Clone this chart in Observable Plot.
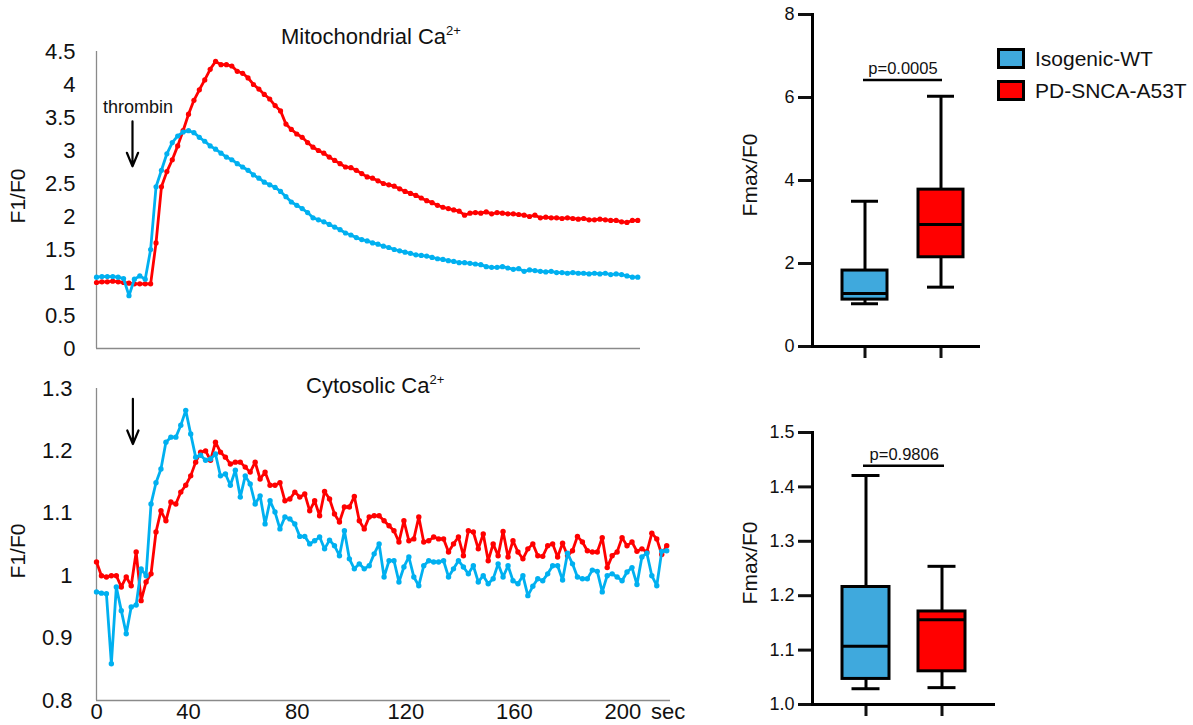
<!DOCTYPE html>
<html>
<head>
<meta charset="utf-8">
<script src="https://cdn.jsdelivr.net/npm/d3@7"></script>
<script src="https://cdn.jsdelivr.net/npm/@observablehq/plot@0.6"></script>
<style>
  body { margin: 0; background: #fff; }
  #root { position: relative; width: 1193px; height: 725px; overflow: hidden; background: #fff;
          font-family: "Liberation Sans", Arial, sans-serif; color: #111; }
  .panel { position: absolute; }
  .title { position: absolute; font-size: 22px; line-height: 22px; white-space: nowrap; }
  .title sup { font-size: 13px; vertical-align: 0; position: relative; top: -9px; }
  .ylab { position: absolute; font-size: 21px; line-height: 21px; white-space: nowrap;
          transform: translate(-50%, -50%) rotate(-90deg); }
  .legrow { position: absolute; display: flex; align-items: center; height: 21px; font-size: 21px; white-space: nowrap; }
  .legrow .sw { width: 28px; height: 21px; box-sizing: border-box; border: 3px solid #000; margin-right: 10px; }
</style>
</head>
<body>
<div id="root"></div>
<script>
// ---------------- DATA ----------------
// Mitochondrial Ca2+ traces (F1/F0), one sample every 2 s from t = 0
const mitoWT = [
  1.08, 1.09, 1.09, 1.09, 1.08, 1.06, 0.80, 1.05, 1.10, 1.05,
  1.50, 2.45, 2.70, 2.95, 3.12, 3.22, 3.28, 3.30, 3.27, 3.20,
  3.14, 3.07, 3.02, 2.96, 2.90, 2.86, 2.80, 2.75, 2.70, 2.63,
  2.58, 2.52, 2.48, 2.44, 2.38, 2.30, 2.22, 2.17, 2.12, 2.06,
  1.98, 1.95, 1.92, 1.88, 1.84, 1.80, 1.75, 1.72, 1.68, 1.65,
  1.63, 1.60, 1.58, 1.55, 1.53, 1.50, 1.48, 1.46, 1.44, 1.42,
  1.41, 1.40, 1.38, 1.36, 1.35, 1.33, 1.32, 1.30, 1.30, 1.29,
  1.28, 1.27, 1.24, 1.23, 1.23, 1.24, 1.22, 1.20, 1.21, 1.17,
  1.19, 1.18, 1.17, 1.16, 1.17, 1.15, 1.15, 1.14, 1.15, 1.14,
  1.14, 1.13, 1.14, 1.13, 1.14, 1.12, 1.13, 1.12, 1.10, 1.08,
  1.08
];
const mitoPD = [
  1.00, 1.01, 1.01, 1.02, 1.01, 1.00, 0.99, 0.98, 0.98, 0.98,
  0.98, 1.60, 2.45, 2.68, 2.86, 3.07, 3.30, 3.55, 3.76, 3.92,
  4.07, 4.23, 4.35, 4.30, 4.30, 4.28, 4.20, 4.17, 4.10, 4.00,
  3.93, 3.85, 3.78, 3.68, 3.60, 3.40, 3.32, 3.25, 3.20, 3.12,
  3.05, 3.00, 2.96, 2.90, 2.85, 2.80, 2.75, 2.74, 2.70, 2.65,
  2.60, 2.58, 2.54, 2.50, 2.48, 2.46, 2.42, 2.38, 2.35, 2.32,
  2.28, 2.24, 2.21, 2.17, 2.14, 2.12, 2.10, 2.08, 2.02, 2.05,
  2.06, 2.05, 2.07, 2.04, 2.06, 2.05, 2.04, 2.04, 2.03, 2.02,
  2.00, 2.02, 1.98, 1.99, 1.98, 1.98, 1.97, 1.98, 1.97, 1.96,
  1.97, 1.95, 1.95, 1.96, 1.95, 1.94, 1.94, 1.92, 1.91, 1.94,
  1.94
];
const mitoStep = 2;
const mitoXDomain = [0, 201];
const mitoYTicks = [0, 0.5, 1, 1.5, 2, 2.5, 3, 3.5, 4, 4.5];

// Cytosolic Ca2+ traces (F1/F0), evenly sampled between cytoTStart and cytoTEnd
const cytoWT = [
  0.974, 0.972, 0.971, 0.859, 0.982, 0.944, 0.907, 0.950, 0.953, 1.011,
  1.000, 1.115, 1.149, 1.171, 1.214, 1.222, 1.222, 1.241, 1.265, 1.227,
  1.190, 1.193, 1.185, 1.187, 1.195, 1.160, 1.163, 1.145, 1.169, 1.126,
  1.160, 1.147, 1.115, 1.128, 1.083, 1.120, 1.102, 1.075, 1.094,
  1.091, 1.083, 1.063, 1.063, 1.051, 1.056, 1.062, 1.043, 1.057, 1.048,
  1.032, 1.072, 1.027, 1.011, 1.019, 1.011, 1.016, 1.035, 1.051, 0.998,
  1.024, 1.024, 0.990, 1.014, 1.030, 0.998, 0.984, 1.016, 1.024, 1.022,
  1.022, 1.024, 0.998, 1.011, 1.024, 1.014, 1.003, 1.016, 0.990, 1.000,
  0.987, 0.995, 1.019, 0.998, 1.016, 0.992, 0.987, 1.000, 0.968, 0.983,
  0.995, 0.992, 1.003, 1.016, 1.016, 0.993, 1.036, 1.019, 0.998, 0.995,
  0.995, 1.009, 1.007, 0.974, 1.000, 1.003, 0.998, 0.992, 1.006, 1.013,
  0.986, 1.030, 1.036, 1.000, 0.984, 1.039, 1.040
];
const cytoPD = [
  1.022, 1.000, 0.998, 1.000, 1.000, 0.982, 0.998, 0.984, 1.038, 0.960,
  0.990, 1.003, 1.070, 1.104, 1.088, 1.118, 1.115, 1.134, 1.145, 1.160,
  1.182, 1.198, 1.200, 1.185, 1.214, 1.198, 1.190, 1.179, 1.182, 1.182,
  1.174, 1.166, 1.182, 1.155, 1.166, 1.145, 1.145, 1.149, 1.120,
  1.123, 1.134, 1.126, 1.131, 1.104, 1.120, 1.096, 1.135, 1.123, 1.099,
  1.086, 1.110, 1.110, 1.127, 1.088, 1.075, 1.094, 1.096, 1.096, 1.088,
  1.080, 1.072, 1.054, 1.088, 1.056, 1.059, 1.094, 1.054, 1.056, 1.062,
  1.059, 1.059, 1.038, 1.051, 1.062, 1.032, 1.072, 1.070, 1.043, 1.067,
  1.024, 1.051, 1.032, 1.071, 1.030, 1.056, 1.038, 1.027, 1.043, 1.051,
  1.032, 1.031, 1.048, 1.051, 1.030, 1.052, 1.032, 1.040, 1.063, 1.054,
  1.040, 1.038, 1.038, 1.061, 1.013, 1.032, 1.038, 1.061, 1.048, 1.054,
  1.039, 1.043, 1.038, 1.068, 1.059, 1.034, 1.048
];
const cytoTStart = 6.1, cytoTEnd = 216.1;
const cytoXDomain = [6.1, 217.5];
const cytoXTicks = [6.1, 40, 80, 120, 160, 200, 216.6];
const cytoXTickLabels = ["0", "40", "80", "120", "160", "200", "sec"];
const cytoYTicks = [0.8, 0.9, 1, 1.1, 1.2, 1.3];

// Thrombin annotations
const mitoNote = [{t: 15.3, v: 3.66, label: "thrombin"}];
const mitoArrow = [{t: 13.3, from: 3.44, to: 2.76}];
const cytoArrow = [{t: 19.5, from: 1.2835, to: 1.211}];

// Box plots (Fmax/F0): whisker low, Q1, median, Q3, whisker high
const boxCats = ["Isogenic-WT", "PD-SNCA-A53T"];
const boxColors = ["#3fa9dd", "#ff0000"];
const mitoBoxLo  = [1.03, 1.43];
const mitoBoxQ1  = [1.13, 2.15];
const mitoBoxMed = [1.28, 2.94];
const mitoBoxQ3  = [1.83, 3.78];
const mitoBoxHi  = [3.50, 6.03];
const mitoBoxTicks = [0, 2, 4, 6, 8];
const mitoP = {y: 6.42, text: "p=0.0005"};

const cytoBoxLo  = [1.029, 1.031];
const cytoBoxQ1  = [1.047, 1.061];
const cytoBoxMed = [1.107, 1.156];
const cytoBoxQ3  = [1.216, 1.171];
const cytoBoxHi  = [1.421, 1.254];
const cytoBoxTicks = [1.0, 1.1, 1.2, 1.3, 1.4, 1.5];
const cytoP = {y: 1.439, text: "p=0.9806"};

// ---------------- RENDER ----------------
const FONT = '"Liberation Sans", Arial, sans-serif';
const RED = "#ff0000", CYAN = "#00b0f0", AXIS_GRAY = "#8a8a8a";
const root = document.getElementById("root");

function place(node, left, top) {
  const d = document.createElement("div");
  d.className = "panel";
  d.style.left = left + "px";
  d.style.top = top + "px";
  d.appendChild(node);
  root.appendChild(d);
}
function html(cls, content, styles) {
  const d = document.createElement("div");
  d.className = cls;
  d.innerHTML = content;
  Object.assign(d.style, styles);
  root.appendChild(d);
  return d;
}
const rows = (vals, t0, dt) => vals.map((v, i) => ({t: t0 + i * dt, v}));
const svgStyle = {fontFamily: FONT, background: "transparent", overflow: "visible"};
const plain = d => String(d);

// Mitochondrial trace
const mWT = rows(mitoWT, 0, mitoStep), mPD = rows(mitoPD, 0, mitoStep);
const mito = Plot.plot({
  width: 650, height: 360,
  marginLeft: 96, marginRight: 10, marginTop: 51, marginBottom: 12,
  style: svgStyle,
  x: {domain: mitoXDomain, axis: null},
  y: {domain: [0, 4.5]},
  marks: [
    Plot.axisY({ticks: mitoYTicks, tickFormat: plain, tickSize: 0, tickPadding: 21, fontSize: 22, label: null}),
    Plot.ruleX([mitoXDomain[0]], {stroke: AXIS_GRAY, strokeWidth: 1.3}),
    Plot.ruleY([0], {stroke: AXIS_GRAY, strokeWidth: 1.3}),
    Plot.line(mPD, {x: "t", y: "v", stroke: RED, strokeWidth: 2.8}),
    Plot.dot(mPD, {x: "t", y: "v", r: 2.6, fill: RED}),
    Plot.line(mWT, {x: "t", y: "v", stroke: CYAN, strokeWidth: 2.8}),
    Plot.dot(mWT, {x: "t", y: "v", r: 2.6, fill: CYAN}),
    Plot.text(mitoNote, {x: "t", y: "v", text: "label", fontSize: 18, fill: "#111"}),
    Plot.arrow(mitoArrow, {x1: "t", x2: "t", y1: "from", y2: "to", stroke: "#000", strokeWidth: 2.2, headLength: 10, headAngle: 45})
  ]
});
place(mito, 0, 0);

// Cytosolic trace
const cdt = (cytoTEnd - cytoTStart) / (cytoWT.length - 1);
const cdtPD = (cytoTEnd - cytoTStart) / (cytoPD.length - 1);
const cWT = rows(cytoWT, cytoTStart, cdt), cPD = rows(cytoPD, cytoTStart, cdtPD);
const tickLabel = new Map(cytoXTicks.map((t, i) => [t, cytoXTickLabels[i]]));
const cyto = Plot.plot({
  width: 690, height: 355,
  marginLeft: 96, marginRight: 20, marginTop: 18, marginBottom: 25,
  style: svgStyle,
  x: {domain: cytoXDomain},
  y: {domain: [0.8, 1.3]},
  marks: [
    Plot.axisY({ticks: cytoYTicks, tickFormat: plain, tickSize: 0, tickPadding: 24, fontSize: 22, label: null}),
    Plot.axisX({ticks: cytoXTicks, tickFormat: d => tickLabel.get(d), tickSize: 0, tickPadding: 3, fontSize: 22, label: null}),
    Plot.ruleX([cytoXDomain[0]], {stroke: AXIS_GRAY, strokeWidth: 1.3}),
    Plot.ruleY([0.8], {stroke: AXIS_GRAY, strokeWidth: 1.3}),
    Plot.line(cPD, {x: "t", y: "v", stroke: RED, strokeWidth: 2.8}),
    Plot.dot(cPD, {x: "t", y: "v", r: 2.7, fill: RED}),
    Plot.line(cWT, {x: "t", y: "v", stroke: CYAN, strokeWidth: 2.8}),
    Plot.dot(cWT, {x: "t", y: "v", r: 2.7, fill: CYAN}),
    Plot.arrow(cytoArrow, {x1: "t", x2: "t", y1: "from", y2: "to", stroke: "#000", strokeWidth: 2.2, headLength: 10, headAngle: 45})
  ]
});
place(cyto, 0, 370);

// Box plots
function boxPlot({lo, q1, med, q3, hi, ticks, fmt, yDomain, p, width, height, marginTop, marginBottom, band}) {
  const data = boxCats.map((cat, i) => ({cat, lo: lo[i], q1: q1[i], med: med[i], q3: q3[i], hi: hi[i]}));
  const pRow = [{a: boxCats[0], b: boxCats[1], y: p.y, text: p.text}];
  return Plot.plot({
    width, height, marginLeft: 92, marginRight: width - 92 - band.span, marginTop, marginBottom,
    style: svgStyle,
    x: {type: "band", domain: boxCats, paddingInner: band.pi, paddingOuter: band.po, align: band.align},
    y: {domain: yDomain},
    color: {domain: boxCats, range: boxColors},
    marks: [
      Plot.ruleX(data, {x: "cat", y1: "lo", y2: "hi", stroke: "#000", strokeWidth: 3}),
      Plot.tickY(data, {x: "cat", y: "lo", stroke: "#000", strokeWidth: 3, insetLeft: band.cap, insetRight: band.cap}),
      Plot.tickY(data, {x: "cat", y: "hi", stroke: "#000", strokeWidth: 3, insetLeft: band.cap, insetRight: band.cap}),
      Plot.barY(data, {x: "cat", y1: "q1", y2: "q3", fill: "cat", stroke: "#000", strokeWidth: 3}),
      Plot.tickY(data, {x: "cat", y: "med", stroke: "#000", strokeWidth: 3}),
      Plot.axisY({ticks, tickFormat: fmt, tickSize: 14, tickPadding: 4, strokeWidth: 3, fontSize: 18, label: null}),
      Plot.axisX({tickSize: 12, strokeWidth: 3, tickFormat: () => "", label: null}),
      Plot.frame({anchor: "left", stroke: "#000", strokeWidth: 3}),
      Plot.frame({anchor: "bottom", stroke: "#000", strokeWidth: 3}),
      Plot.ruleY(pRow, {y: "y", x1: "a", x2: "b", insetLeft: band.bar, insetRight: band.bar, stroke: "#000", strokeWidth: 2.5}),
      Plot.text(pRow, {x: "a", y: "y", text: "text", dx: band.step / 2, dy: -11, fontSize: 16.5, fill: "#111"})
    ]
  });
}
const box1 = boxPlot({
  lo: mitoBoxLo, q1: mitoBoxQ1, med: mitoBoxMed, q3: mitoBoxQ3, hi: mitoBoxHi,
  ticks: mitoBoxTicks, fmt: plain, yDomain: [0, 8], p: mitoP,
  width: 270, height: 370, marginTop: 14, marginBottom: 24,
  band: {span: 166, pi: 0.408, po: 0.296, align: 0.667, cap: 9, bar: 21, step: 76}
});
place(box1, 720, 0);
const box2 = boxPlot({
  lo: cytoBoxLo, q1: cytoBoxQ1, med: cytoBoxMed, q3: cytoBoxQ3, hi: cytoBoxHi,
  ticks: cytoBoxTicks, fmt: d => d.toFixed(1), yDomain: [1.0, 1.5], p: cytoP,
  width: 285, height: 325, marginTop: 32, marginBottom: 21,
  band: {span: 181, pi: 0.386, po: 0.376, align: 0.52, cap: 9.5, bar: 21, step: 76.5}
});
place(box2, 720, 400);

// Titles, axis titles, legend
html("title", "Mitochondrial Ca<sup>2+</sup>", {left: "281px", top: "26px"});
html("title", "Cytosolic Ca<sup>2+</sup>", {left: "306px", top: "375px"});
html("ylab", "F1/F0", {left: "17px", top: "196px"});
html("ylab", "F1/F0", {left: "17px", top: "551px"});
html("ylab", "Fmax/F0", {left: "749px", top: "175px"});
html("ylab", "Fmax/F0", {left: "749px", top: "563px"});
boxCats.forEach((cat, i) => {
  html("legrow", `<div class="sw" style="background:${boxColors[i]}"></div><span>${cat}</span>`,
       {left: "997px", top: (48 + i * 32) + "px"});
});
</script>
</body>
</html>
